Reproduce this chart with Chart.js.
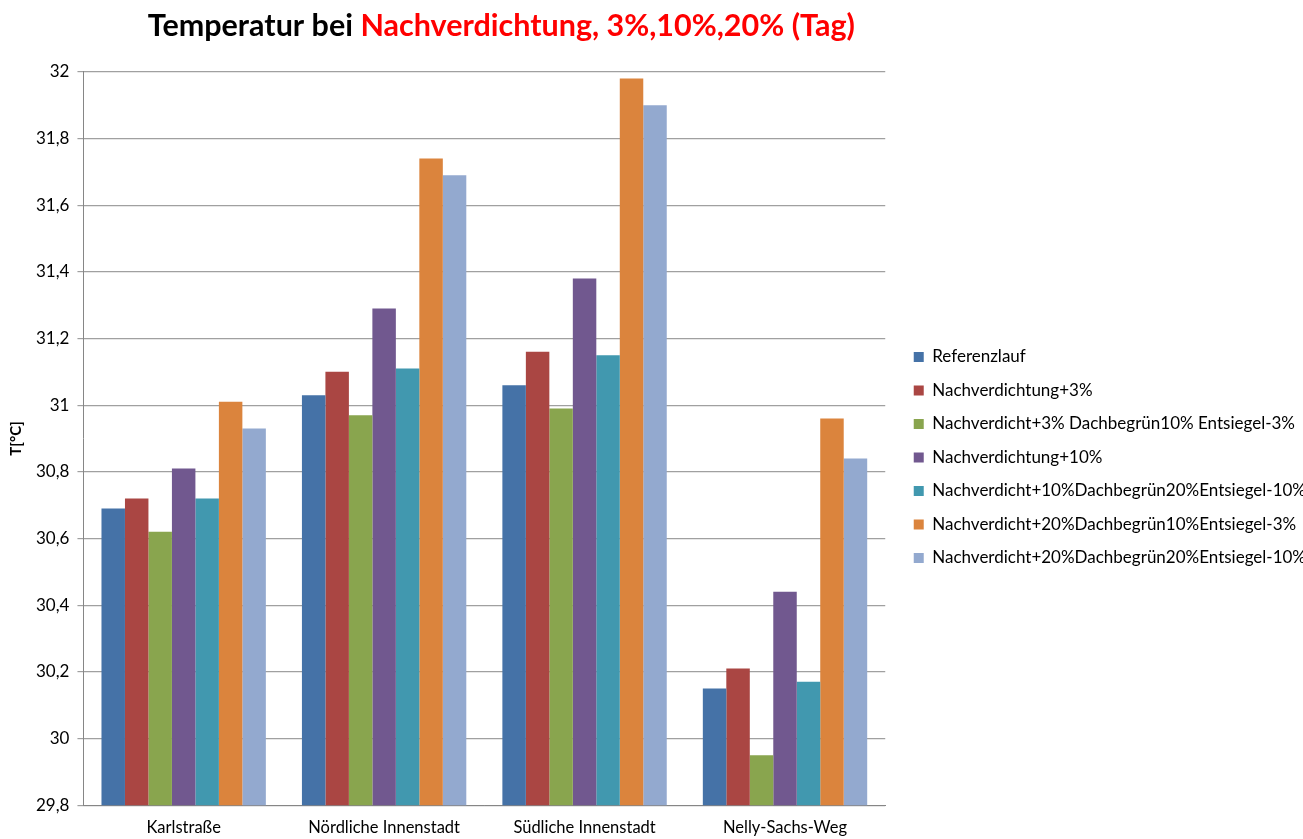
<!DOCTYPE html>
<html>
<head>
<meta charset="utf-8">
<script src="https://cdn.jsdelivr.net/npm/chart.js@4"></script>
<style>
  html, body { margin: 0; padding: 0; background: #fff; overflow: hidden; }
  #wrap { width: 1303px; height: 839px; overflow: hidden; }
  #box { width: 1316px; height: 839px; }
</style>
</head>
<body>
<div id="wrap"><div id="box"><canvas id="chart"></canvas></div></div>
<script>
// categories and series
const categories = ['Karlstraße', 'Nördliche Innenstadt', 'Südliche Innenstadt', 'Nelly-Sachs-Weg'];
const seriesNames = [
  'Referenzlauf',
  'Nachverdichtung+3%',
  'Nachverdicht+3% Dachbegrün10% Entsiegel-3%',
  'Nachverdichtung+10%',
  'Nachverdicht+10%Dachbegrün20%Entsiegel-10%',
  'Nachverdicht+20%Dachbegrün10%Entsiegel-3%',
  'Nachverdicht+20%Dachbegrün20%Entsiegel-10%'
];
const referenzlauf   = [30.69, 31.03, 31.06, 30.15];
const nachv3         = [30.72, 31.10, 31.16, 30.21];
const nachv3Dach10   = [30.62, 30.97, 30.99, 29.95];
const nachv10        = [30.81, 31.29, 31.38, 30.44];
const nachv10Dach20  = [30.72, 31.11, 31.15, 30.17];
const nachv20Dach10  = [31.01, 31.74, 31.98, 30.96];
const nachv20Dach20  = [30.93, 31.69, 31.90, 30.84];
const seriesValues = [referenzlauf, nachv3, nachv3Dach10, nachv10, nachv10Dach20, nachv20Dach10, nachv20Dach20];
const colors = ['#4572A7', '#AA4643', '#89A54E', '#71588F', '#4198AF', '#DB843D', '#93A9CF'];

const yMin = 29.8, yMax = 32, yStep = 0.2;
const titleBlack = 'Temperatur bei ';
const titleRed = 'Nachverdichtung, 3%,10%,20% (Tag)';

const FONT = 'Lato, "Open Sans", sans-serif';

// two-coloured title drawn into the title block space
const twoColourTitle = {
  id: 'twoColourTitle',
  afterDraw(chart) {
    const ctx = chart.ctx;
    const tb = chart.titleBlock;
    const area = chart.chartArea;
    ctx.save();
    ctx.font = 'bold 30.5px ' + FONT;
    ctx.textBaseline = 'middle';
    const w1 = ctx.measureText(titleBlack).width;
    const w2 = ctx.measureText(titleRed).width;
    const cx = (area.left + area.right) / 2 + 17;
    const x0 = cx - (w1 + w2) / 2;
    const y = tb.top + 26;
    ctx.fillStyle = '#000';
    ctx.fillText(titleBlack, x0, y);
    ctx.fillStyle = '#FF0000';
    ctx.fillText(titleRed, x0 + w1, y);
    ctx.restore();
  }
};

new Chart(document.getElementById('chart'), {
  type: 'bar',
  data: {
    labels: categories,
    datasets: seriesNames.map((name, i) => ({
      label: name,
      data: seriesValues[i],
      backgroundColor: colors[i],
      borderWidth: 0,
      categoryPercentage: 0.82,
      barPercentage: 1.0
    }))
  },
  options: {
    responsive: true,
    maintainAspectRatio: false,
    animation: false,
    layout: { padding: { left: 2, right: 0, top: 0, bottom: -12 } },
    plugins: {
      title: {
        display: true,
        text: ' ',
        color: 'rgba(0,0,0,0)',
        font: { family: FONT, size: 29, weight: 'bold' },
        padding: { top: 8, bottom: 29 }
      },
      legend: {
        position: 'right',
        align: 'center',
        maxWidth: 500,
        title: {
          display: true,
          text: ' ',
          font: { family: FONT, size: 10 },
          padding: { top: 52, bottom: 0 }
        },
        labels: {
          font: { family: FONT, size: 17 },
          color: '#000',
          boxWidth: 10,
          boxHeight: 10,
          padding: 16.5
        }
      },
      tooltip: { enabled: false }
    },
    scales: {
      x: {
        grid: { display: false, drawTicks: false },
        border: { color: '#868686', width: 1 },
        ticks: { font: { family: FONT, size: 16.5 }, color: '#000', padding: 13 }
      },
      y: {
        min: yMin,
        max: yMax,
        ticks: {
          stepSize: yStep,
          font: { family: FONT, size: 17 },
          color: '#000',
          padding: 8,
          callback: v => String(Number(v.toFixed(1))).replace('.', ',')
        },
        grid: { color: '#A0A0A0', lineWidth: 1.2, tickLength: 6 },
        border: { color: '#868686', width: 1 },
        title: {
          display: true,
          text: 'T[°C]',
          font: { family: FONT, size: 15, weight: 'bold' },
          color: '#000',
          padding: { top: 5, bottom: 3 }
        }
      },
      // empty spacer between plot area and legend
      gap: {
        position: 'right',
        display: true,
        ticks: { display: false },
        grid: { display: false },
        border: { display: false },
        afterFit(scale) { scale.width = 12; }
      }
    }
  },
  plugins: [twoColourTitle]
});
</script>
</body>
</html>
